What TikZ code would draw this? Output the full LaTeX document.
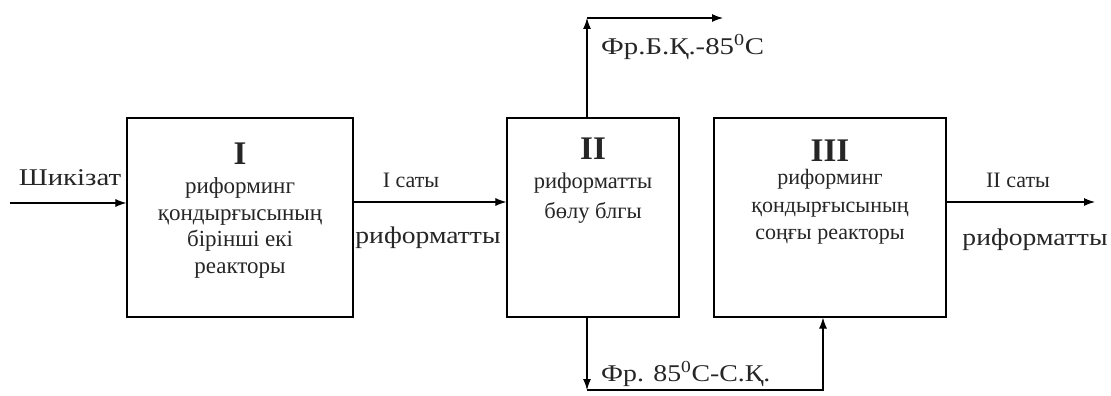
\documentclass[tikz,border=0pt]{standalone}
\usepackage{fontspec}
\setmainfont{Liberation Serif}
\usetikzlibrary{arrows.meta}
\newcommand{\wide}[2]{\scalebox{#1}[1]{#2}}
\begin{document}
\begin{tikzpicture}[x=1pt,y=-1pt,
  blk/.style={draw, line width=1.2pt, minimum height=199pt, inner sep=0pt},
  arr/.style={-{Latex[length=11pt,width=8pt]}, line width=1.1pt},
  lbl/.style={font=\fontsize{22}{26.5}\selectfont, inner sep=0pt, align=center, text=black!85},
  big/.style={lbl, font=\fontsize{24}{28}\selectfont},
  roman/.style={font=\fontsize{33}{35}\selectfont\bfseries, inner sep=0pt, text=black!85}]
\useasboundingbox (0,0) rectangle (1111,396);
\fill[white] (0,0) rectangle (1111,396);
% boxes
\node[blk, minimum width=226pt] (b1) at (240,217.5) {};
\node[blk, minimum width=172pt] (b2) at (593,217.5) {};
\node[blk, minimum width=232pt] (b3) at (830,217.5) {};
% box texts
\node[roman] (r1) at (240,154) {I};
\node[lbl, font=\fontsize{23}{26.5}\selectfont] (t1) at (240,228) {риформинг\\қондырғысының\\бірінші екі\\реакторы};
\node[roman] (r2) at (593,149) {II};
\node[lbl, font=\fontsize{22.5}{30}\selectfont] (t2) at (593,198) {риформатты\\бөлу блгы};
\node[roman] (r3) at (830,151) {III};
\node[lbl, font=\fontsize{22}{27.5}\selectfont] (t3) at (830,207) {риформинг\\қондырғысының\\соңғы реакторы};
% coordinates
\coordinate (in) at (10,203);
\coordinate (m12) at (0,202);
\coordinate (tc) at (587,18);
\coordinate (te) at (723,18);
\coordinate (bc) at (587,390);
\coordinate (bd) at (823,390);
\coordinate (oe) at (1095,202);
% connectors
\draw[arr] (in) -- (in -| b1.west);
\draw[arr] (b1.east |- m12) -- (b2.west |- m12);
\draw[arr] (b2.north -| tc) -- (tc);
\draw[arr] (tc) -- (te);
\draw[arr] (b2.south -| bc) -- (bc);
\draw[arr] (bc) -- (bd) -- (bd |- b3.south);
\draw[arr] (b3.east |- oe) -- (oe);
% labels
\node[big] (l0) at (70,178) {\wide{1.2}{Шикізат}};
\node[lbl] (l1) at (411,180) {I саты};
\node[big] (l2) at (428,238) {\wide{1.15}{риформатты}};
\node[big, anchor=west] (l3) at (601,47) {\wide{1.2}{Фр.Б.Қ.-85\textsuperscript{0}С}};
\node[big, anchor=west] (l4) at (601,374) {\wide{1.16}{Фр. 85\textsuperscript{0}С-С.Қ.}};
\node[lbl] (l5) at (1018,180) {II саты};
\node[big] (l6) at (1035,240) {\wide{1.15}{риформатты}};
\end{tikzpicture}
\end{document}
